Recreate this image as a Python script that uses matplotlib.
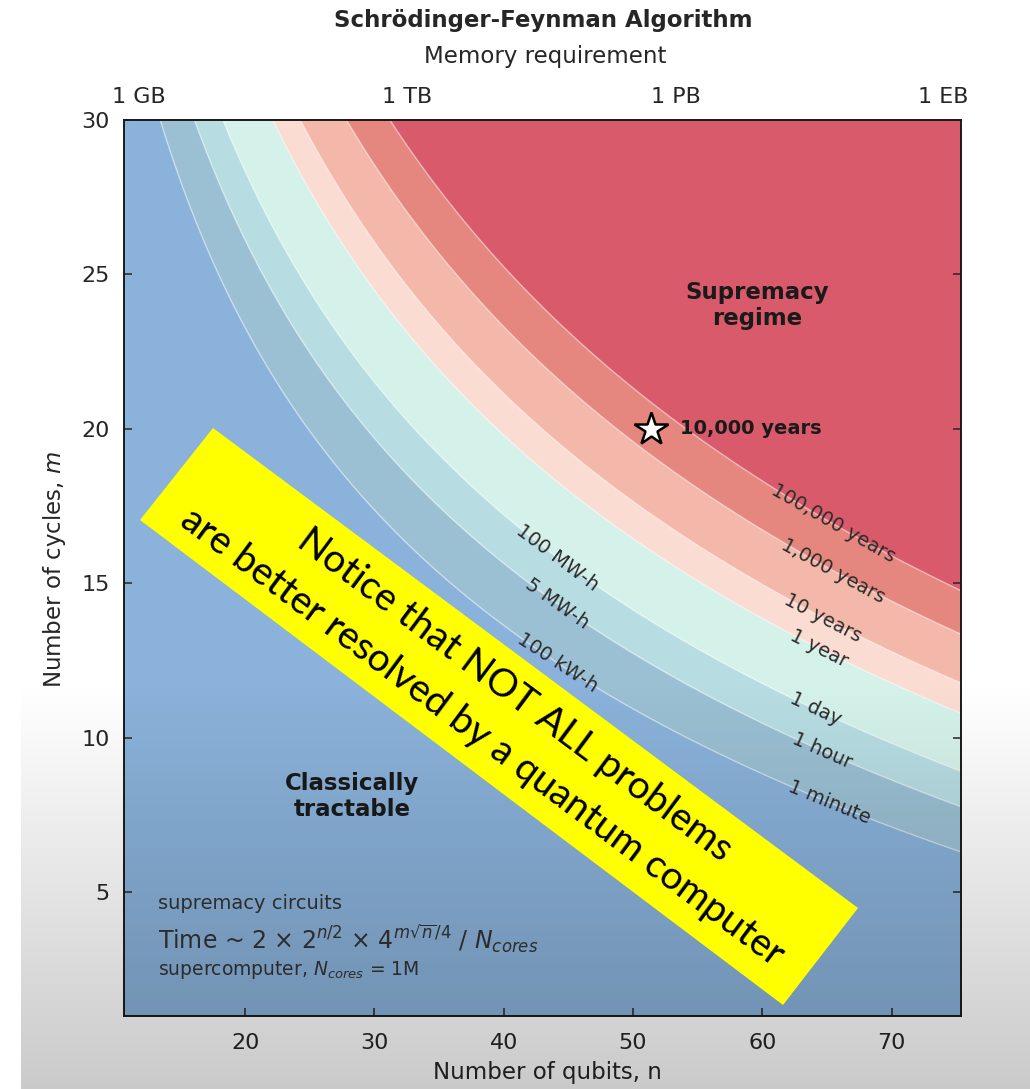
import numpy as np
import matplotlib
matplotlib.use("Agg")
import matplotlib.pyplot as plt
from matplotlib.patches import Polygon

# ---------------- data ----------------
time_labels = ["1 minute", "1 hour", "1 day", "1 year", "10 years",
               "1,000 years", "100,000 years"]
# qubit count where each boundary meets the top edge (m = 30)
boundary_n_top = [13.44, 16.02, 18.47, 21.95, 24.27, 28.0, 31.1]
# cycle count where each boundary meets the right edge (n = 75.4)
boundary_m_right = [6.3, 7.8, 8.82, 10.88, 11.77, 13.28, 14.8]
energy_labels = ["100 kW-h", "5 MW-h", "100 MW-h"]
energy_on = ["1 minute", "1 hour", "1 day"]
band_colors = ["#8AB2DA", "#9BC0D3", "#B7DDE3", "#D5F2EA",
               "#FADCD2", "#F3B8AA", "#E6877F", "#D95B6B"]
mem_labels = ["1 GB", "1 TB", "1 PB", "1 EB"]
mem_qubits = [11.8, 32.5, 53.3, 74.0]
x_ticks = [20, 30, 40, 50, 60, 70]
y_ticks = [5, 10, 15, 20, 25, 30]
star_n, star_m = 51.4, 20.0
star_label = "10,000 years"
n_range = (10.6, 75.4)
m_range = (1.0, 30.0)

# ---------------- field: log2 work ~ n/2 + b*m*sqrt(n) ----------------
n_top = np.array(boundary_n_top)
m_right = np.array(boundary_m_right)
nR = n_range[1]
m_top = m_range[1]
b_each = (nR / 2 - n_top / 2) / (m_top * np.sqrt(n_top) - m_right * np.sqrt(nR))
b = float(np.mean(b_each))


def cost(n, m):
    return n / 2 + b * m * np.sqrt(n)


levels = 0.5 * (cost(n_top, m_top) + cost(nR, m_right))
level_of = dict(zip(time_labels, levels))


def m_on(level, n):
    return (level - n / 2) / (b * np.sqrt(n))


# ---------------- figure ----------------
W, H = 1030, 1089
fig = plt.figure(figsize=(W / 100, H / 100), dpi=100)
fig.patch.set_facecolor("white")
L, R, T, B = 123.6, 961.4, 120, 1016
ax = fig.add_axes([L / W, 1 - B / H, (R - L) / W, (B - T) / H])

nn = np.linspace(n_range[0], n_range[1], 700)
mm = np.linspace(m_range[0], m_range[1], 700)
N, M = np.meshgrid(nn, mm)
Z = cost(N, M)
ax.contourf(N, M, Z, levels=levels, colors=band_colors, extend="both",
            antialiased=True)
ax.contour(N, M, Z, levels=levels, colors="white", linewidths=1.1, alpha=0.4)
ax.set_xlim(*n_range)
ax.set_ylim(*m_range)

tc = "#262626"
ax.set_xticks(x_ticks)
ax.set_yticks(y_ticks)
ax.tick_params(direction="in", length=6, width=1.1, colors=tc, labelsize=16,
               top=False, right=True)
ax.tick_params(axis="x", pad=12)
ax.tick_params(axis="y", pad=10)
for s in ax.spines.values():
    s.set_linewidth(1.4)
    s.set_color("#1a1a1a")

sec = ax.secondary_xaxis("top")
sec.set_xticks(mem_qubits, labels=mem_labels)
sec.tick_params(direction="in", length=6, width=1.1, colors=tc, labelsize=16, pad=9)

fig.text(543 / W, 1 - 20 / H, "Schrödinger-Feynman Algorithm", ha="center",
         va="center", fontsize=16.5, fontweight="bold", color=tc)
fig.text(545 / W, 1 - 57 / H, "Memory requirement", ha="center", va="center",
         fontsize=16.5, color=tc)
fig.text(547 / W, 1 - 1073 / H, "Number of qubits, n", ha="center", va="center",
         fontsize=16.5, color=tc)
fig.text(55 / W, 1 - 570 / H, "Number of cycles, $m$", ha="center", va="center",
         rotation=90, fontsize=16.5, color=tc)

# contour labels
fig.canvas.draw()


def label_on(level, n, text, **kw):
    m = m_on(level, n)
    p1 = ax.transData.transform((n - 0.5, m_on(level, n - 0.5)))
    p2 = ax.transData.transform((n + 0.5, m_on(level, n + 0.5)))
    ang = np.degrees(np.arctan2(p2[1] - p1[1], p2[0] - p1[0]))
    ax.text(n, m, text, rotation=ang, rotation_mode="anchor", ha="center",
            va="center", **kw)


time_label_n = [65.2, 64.6, 64.1, 64.4, 64.7, 65.5, 65.5]
for lab, nx in zip(time_labels, time_label_n):
    label_on(level_of[lab], nx, lab, fontsize=14, color="#2b2b2b")
for lab, on in zip(energy_labels, energy_on):
    label_on(level_of[on], 44.15, lab, fontsize=14, color="#2b2b2b")

ax.plot([star_n], [star_m], marker="*", markersize=25, markerfacecolor="white",
        markeredgecolor="black", markeredgewidth=1.8, linestyle="none")
ax.text(star_n + 2.2, star_m, star_label, ha="left", va="center", fontsize=14,
        fontweight="bold", color="#1a1a1a")

ax.text(59.6, 24.0, "Supremacy\nregime", ha="center", va="center", fontsize=16.5,
        fontweight="bold", color="#1a1a1a", linespacing=1.2)
ax.text(28.3, 8.1, "Classically\ntractable", ha="center", va="center",
        fontsize=16.5, fontweight="bold", color="#1a1a1a", linespacing=1.2)

ax.text(0.041, 0.126, "supremacy circuits", transform=ax.transAxes, ha="left",
        va="center", fontsize=14, color="#333333")
ax.text(0.041, 0.087,
        r"Time ~ 2 $\times$ 2$^{n/2}$ $\times$ 4$^{m\sqrt{n}/4}$ / $N_{cores}$",
        transform=ax.transAxes, ha="left", va="center", fontsize=17,
        color="#333333")
ax.text(0.041, 0.051, r"supercomputer, $N_{cores}$ = 1M", transform=ax.transAxes,
        ha="left", va="center", fontsize=13.5, color="#333333")

# ---------------- overlay: video shading + yellow banner ----------------
ov = fig.add_axes([0, 0, 1, 1], zorder=10)
ov.set_xlim(0, W)
ov.set_ylim(H, 0)
ov.axis("off")
ov.patch.set_alpha(0)
rows = np.linspace(0, 1, 200)
grad = np.zeros((200, 2, 4))
grad[..., 3] = (0.21 * rows)[:, None]
ov.imshow(grad, extent=[21, W, H, 680], aspect="auto", interpolation="bilinear",
          zorder=1)

banner = Polygon([(213, 428), (858, 908), (783, 1005), (140, 520)], closed=True,
                 facecolor="#FFFF00", edgecolor="none", zorder=2)
ov.add_patch(banner)
ang = -np.degrees(np.arctan2(480, 645))
ov.text(515, 695, "Notice that NOT ALL problems", rotation=ang,
        rotation_mode="anchor", ha="center", va="center", fontsize=28,
        family="Lato", color="black", zorder=3)
ov.text(482, 737, "are better resolved by a quantum computer", rotation=ang,
        rotation_mode="anchor", ha="center", va="center", fontsize=28,
        family="Lato", color="black", zorder=3)

fig.savefig("out.png", dpi=100)
